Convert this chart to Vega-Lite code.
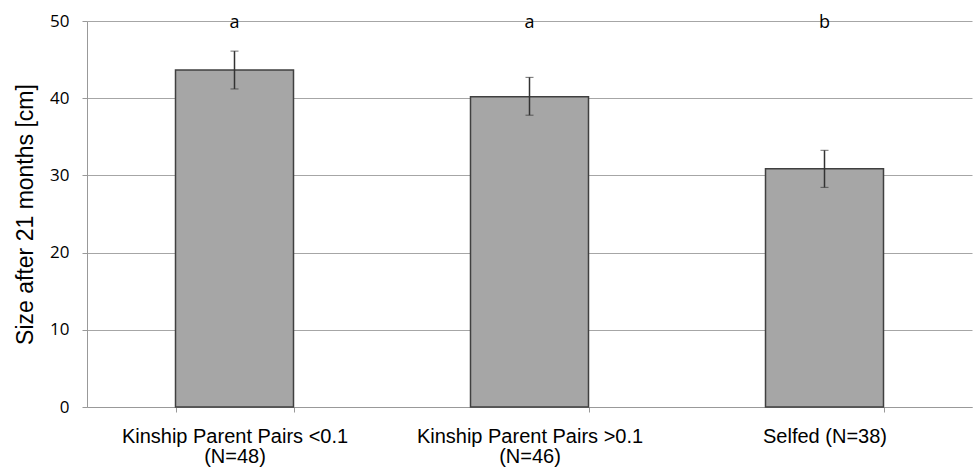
{
  "$schema": "https://vega.github.io/schema/vega-lite/v6.json",
  "autosize": {"type": "none"},
  "padding": {"left": 87, "top": 21, "right": 1, "bottom": 63},
  "width": 885,
  "height": 386,
  "background": "white",
  "config": {"view": {"stroke": null}},
  "data": {"values": [
    {"group": "Kinship Parent Pairs <0.1|(N=48)", "mean": 43.65, "lo": 41.2, "hi": 46.1, "letter": "a"},
    {"group": "Kinship Parent Pairs >0.1|(N=46)", "mean": 40.2, "lo": 37.8, "hi": 42.7, "letter": "a"},
    {"group": "Selfed (N=38)", "mean": 30.85, "lo": 28.45, "hi": 33.25, "letter": "b"}
  ]},
  "encoding": {
    "x": {"field": "group", "type": "nominal", "sort": null,
      "scale": {"paddingInner": 0.6, "paddingOuter": 0.3},
      "axis": {"title": null, "labelAngle": 0, "labelExpr": "split(datum.label, '|')", "labelLimit": 0,
        "labelFont": "Liberation Sans", "labelFontSize": 20, "labelColor": "#000000", "labelLineHeight": 20,
        "labelPadding": 14, "tickBand": "extent", "tickSize": 5, "tickColor": "#999999",
        "domainColor": "#999999", "grid": false}}
  },
  "layer": [
    {"mark": {"type": "bar", "fill": "#a6a6a6", "stroke": "#404040", "strokeWidth": 1.5},
     "encoding": {"y": {"field": "mean", "type": "quantitative",
       "scale": {"domain": [0, 50], "nice": false},
       "title": "Size after 21 months [cm]",
       "axis": {"values": [0, 10, 20, 30, 40, 50],
         "titleFont": "Liberation Sans", "titleFontSize": 23, "titleFontWeight": "normal", "titleColor": "#000000",
         "titlePadding": 12, "labelFont": "Open Sans", "labelFontSize": 17, "labelColor": "#000000",
         "labelPadding": 13, "tickSize": 5, "tickColor": "#999999", "domainColor": "#999999",
         "grid": true, "gridColor": "#a6a6a6", "gridWidth": 1}}}},
    {"mark": {"type": "errorbar", "ticks": {"size": 8, "color": "#333333", "strokeWidth": 1.5}, "rule": {"color": "#333333", "strokeWidth": 1.5}},
     "encoding": {"y": {"field": "lo", "type": "quantitative", "title": "Size after 21 months [cm]"}, "y2": {"field": "hi"}}},
    {"mark": {"type": "text", "font": "Open Sans", "fontSize": 18, "baseline": "middle", "dy": 2, "color": "#000000"},
     "encoding": {"y": {"datum": 50, "type": "quantitative", "title": "Size after 21 months [cm]"}, "text": {"field": "letter"}}}
  ]
}
